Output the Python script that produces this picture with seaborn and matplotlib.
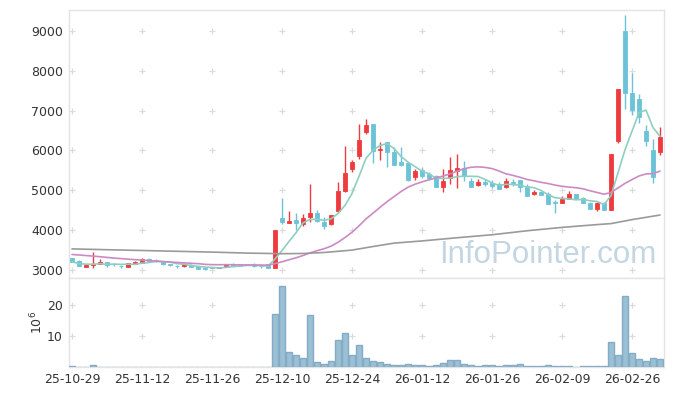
import numpy as np
import pandas as pd
import matplotlib
matplotlib.use("Agg")
import matplotlib.pyplot as plt
import seaborn as sns

# x axis: one slot per trading day, labelled every 10 sessions
tick_pos = [0, 10, 20, 30, 40, 50, 60, 70, 80]
tick_labels = ["25-10-29", "25-11-12", "25-11-26", "25-12-10", "25-12-24",
               "26-01-12", "26-01-26", "26-02-09", "26-02-26"]

opens = [3290, 3230, 3085, 3130, 3160, 3200, 3160, 3110, 3085, 3150,
         3170, 3265, 3250, 3220, 3150, 3110, 3090, 3135, 3100, 3040,
         3080, 3060, 3100, 3160, 3155, 3140, 3160, 3110, 3140, 3060,
         4300, 4190, 4250, 4160, 4320, 4430, 4200, 4150, 4470, 4980,
         5530, 5850, 6470, 6660, 6020, 6210, 5960, 5710, 5680, 5340,
         5510, 5400, 5360, 5085, 5320, 5485, 5560, 5235, 5125, 5210,
         5190, 5165, 5090, 5215, 5260, 5115, 4900, 4965, 4905, 4710,
         4690, 4785, 4900, 4815, 4690, 4535, 4690, 4515, 6250, 9000,
         7440, 7290, 6490, 6010, 5960]
closes = [3210, 3110, 3120, 3145, 3210, 3130, 3140, 3090, 3165, 3190,
          3280, 3215, 3215, 3140, 3130, 3095, 3150, 3070, 3020, 3030,
          3055, 3080, 3145, 3110, 3110, 3130, 3090, 3100, 3055, 4000,
          4200, 4230, 4190, 4300, 4420, 4220, 4110, 4370, 4980, 5430,
          5710, 6260, 6640, 5980, 6040, 5950, 5645, 5645, 5260, 5480,
          5370, 5320, 5090, 5235, 5510, 5560, 5370, 5085, 5210, 5160,
          5110, 5040, 5235, 5180, 5085, 4870, 4965, 4885, 4660, 4690,
          4780, 4900, 4785, 4690, 4535, 4690, 4510, 5915, 7540, 7430,
          7025, 6830, 6250, 5340, 6340]
highs = [3300, 3240, 3125, 3440, 3270, 3210, 3180, 3115, 3170, 3230,
         3290, 3300, 3280, 3225, 3160, 3120, 3155, 3140, 3105, 3045,
         3085, 3085, 3150, 3180, 3160, 3150, 3165, 3120, 3145, 4005,
         4800, 4480, 4440, 4400, 5160, 4500, 4340, 4390, 5220, 6110,
         5770, 6660, 6780, 6670, 6220, 6220, 6080, 6080, 5690, 5530,
         5590, 5470, 5380, 5535, 5845, 5900, 5740, 5300, 5280, 5280,
         5250, 5200, 5300, 5290, 5270, 5160, 5000, 4975, 4950, 4760,
         4860, 4980, 4910, 4840, 4695, 4700, 4695, 5920, 7550, 9400,
         7940, 7410, 6640, 6280, 6580]
lows = [3200, 3100, 3080, 3060, 3150, 3085, 3090, 3060, 3080, 3140,
        3165, 3200, 3190, 3130, 3100, 3060, 3085, 3065, 3015, 3010,
        3050, 3055, 3095, 3105, 3105, 3120, 3085, 3050, 3050, 3050,
        4150, 4170, 4000, 4100, 4210, 4210, 4040, 4130, 4460, 4960,
        5450, 5780, 6410, 5690, 5760, 5590, 5640, 5600, 5240, 5260,
        5320, 5260, 5085, 4950, 5150, 5050, 5230, 5080, 5110, 5100,
        5070, 5030, 5070, 5110, 4970, 4865, 4890, 4880, 4655, 4430,
        4670, 4770, 4770, 4685, 4530, 4480, 4505, 4510, 6190, 7040,
        6890, 6680, 6110, 5180, 5890]
# volume in millions of shares
volumes = [0.3, 0.02, 0.02, 0.6, 0.02, 0.02, 0.02, 0.02, 0.02, 0.02,
           0.02, 0.02, 0.02, 0.02, 0.02, 0.02, 0.02, 0.02, 0.02, 0.02,
           0.02, 0.02, 0.02, 0.02, 0.02, 0.02, 0.02, 0.02, 0.02, 17.1,
           26.1, 4.8, 3.8, 2.8, 16.8, 1.6, 0.9, 1.9, 8.7, 11.0,
           3.8, 7.1, 2.9, 1.9, 1.6, 1.0, 0.6, 0.6, 1.0, 0.6,
           0.6, 0.3, 0.6, 1.3, 2.3, 2.3, 1.0, 0.6, 0.3, 0.6,
           0.6, 0.3, 0.6, 0.6, 1.0, 0.3, 0.3, 0.3, 0.6, 0.3,
           0.3, 0.3, 0.0, 0.3, 0.3, 0.3, 0.3, 8.1, 3.9, 22.9,
           4.5, 2.6, 1.9, 2.9, 2.6]

# 20-day average before a full window of visible closes exists
ma20_head_idx = [0, 3, 6, 9, 12, 15, 18]
ma20_head_val = [3390, 3350, 3300, 3260, 3225, 3190, 3160]
# 60-day average
ma60_idx = [0, 5, 10, 15, 20, 25, 30, 33, 36, 40, 43, 46, 50, 55, 60, 65,
            70, 75, 77, 80, 84]
ma60_val = [3530, 3510, 3490, 3470, 3450, 3425, 3410, 3415, 3440, 3500,
            3590, 3675, 3730, 3810, 3885, 3985, 4070, 4140, 4165, 4265, 4380]

UP, DOWN = "#ef3b3e", "#6cc3d8"

df = pd.DataFrame({"i": np.arange(len(closes)), "open": opens, "close": closes,
                   "high": highs, "low": lows, "vol": volumes})
df["ma5"] = df["close"].rolling(5, min_periods=1).mean()
ma20 = df["close"].rolling(20).mean()
ma20_x = ma20_head_idx + list(df["i"][19:])
ma20_y = ma20_head_val + list(ma20[19:])

sns.set_style("white")
plt.rcParams["font.family"] = ["DejaVu Sans"]

fig = plt.figure(figsize=(6.73, 3.96), dpi=100)
ax = fig.add_axes([68.5 / 673, 1 - 278 / 396, 595 / 673, 268 / 396])
axv = fig.add_axes([68.5 / 673, 1 - 367 / 396, 595 / 673, 89 / 396])

# candles
up = df["close"] >= df["open"]
colors = np.where(up, UP, DOWN)
body_lo = np.minimum(df["open"], df["close"])
body_h = (df["close"] - df["open"]).abs()
ax.vlines(df["i"], df["low"], df["high"], colors=colors, lw=1, zorder=2)
ax.bar(df["i"], body_h, bottom=body_lo, width=0.62, color=colors,
       edgecolor=colors, linewidth=0.6, zorder=3)

# moving averages
sns.lineplot(x=df["i"], y=df["ma5"], ax=ax, color="#8fcfc0", lw=1.2, zorder=4)
sns.lineplot(x=ma20_x, y=ma20_y, ax=ax, color="#cc8ac5", lw=1.2, zorder=4)
sns.lineplot(x=ma60_idx, y=ma60_val, ax=ax, color="#9a9a9a", lw=1.2, zorder=4)

ax.text(0.805, 0.085, "InfoPointer.com", transform=ax.transAxes,
        ha="center", va="center", fontsize=22.5, color="#c3d6e2",
        family=["Liberation Sans"], zorder=5)

# volume
sns.barplot(x=df["i"], y=df["vol"], ax=axv, native_scale=True, color="#9bc0d3",
            edgecolor="#84abc8", linewidth=1, width=0.95, saturation=1, zorder=3)

# light "+" marks at the grid intersections
yticks_p = [3000, 4000, 5000, 6000, 7000, 8000, 9000]
yticks_v = [10, 20]
gx, gy = np.meshgrid(tick_pos, yticks_p)
ax.scatter(gx.ravel(), gy.ravel(), marker="+", s=22, color="#dcdcdc", lw=0.9, zorder=1)
gx, gy = np.meshgrid(tick_pos, yticks_v)
axv.scatter(gx.ravel(), gy.ravel(), marker="+", s=22, color="#dcdcdc", lw=0.9, zorder=1)

for a in (ax, axv):
    a.set_xlim(-0.5, 84.5)
    a.set_xticks(tick_pos)
    a.tick_params(length=0, labelsize=9, colors="#333333", pad=4)
    a.set_xlabel("")
    a.set_ylabel("")
    for s in a.spines.values():
        s.set_color("#e3e3e3")
        s.set_linewidth(1)

ax.set_ylim(2800, 9525)
ax.set_yticks(yticks_p)
ax.set_xticklabels([])

axv.set_ylim(0, 28.7)
axv.set_yticks(yticks_v)
axv.set_xticklabels(tick_labels)
axv.set_ylabel("$10^6$", fontsize=9, color="#333333", labelpad=1)

fig.savefig("out.png", dpi=100)
